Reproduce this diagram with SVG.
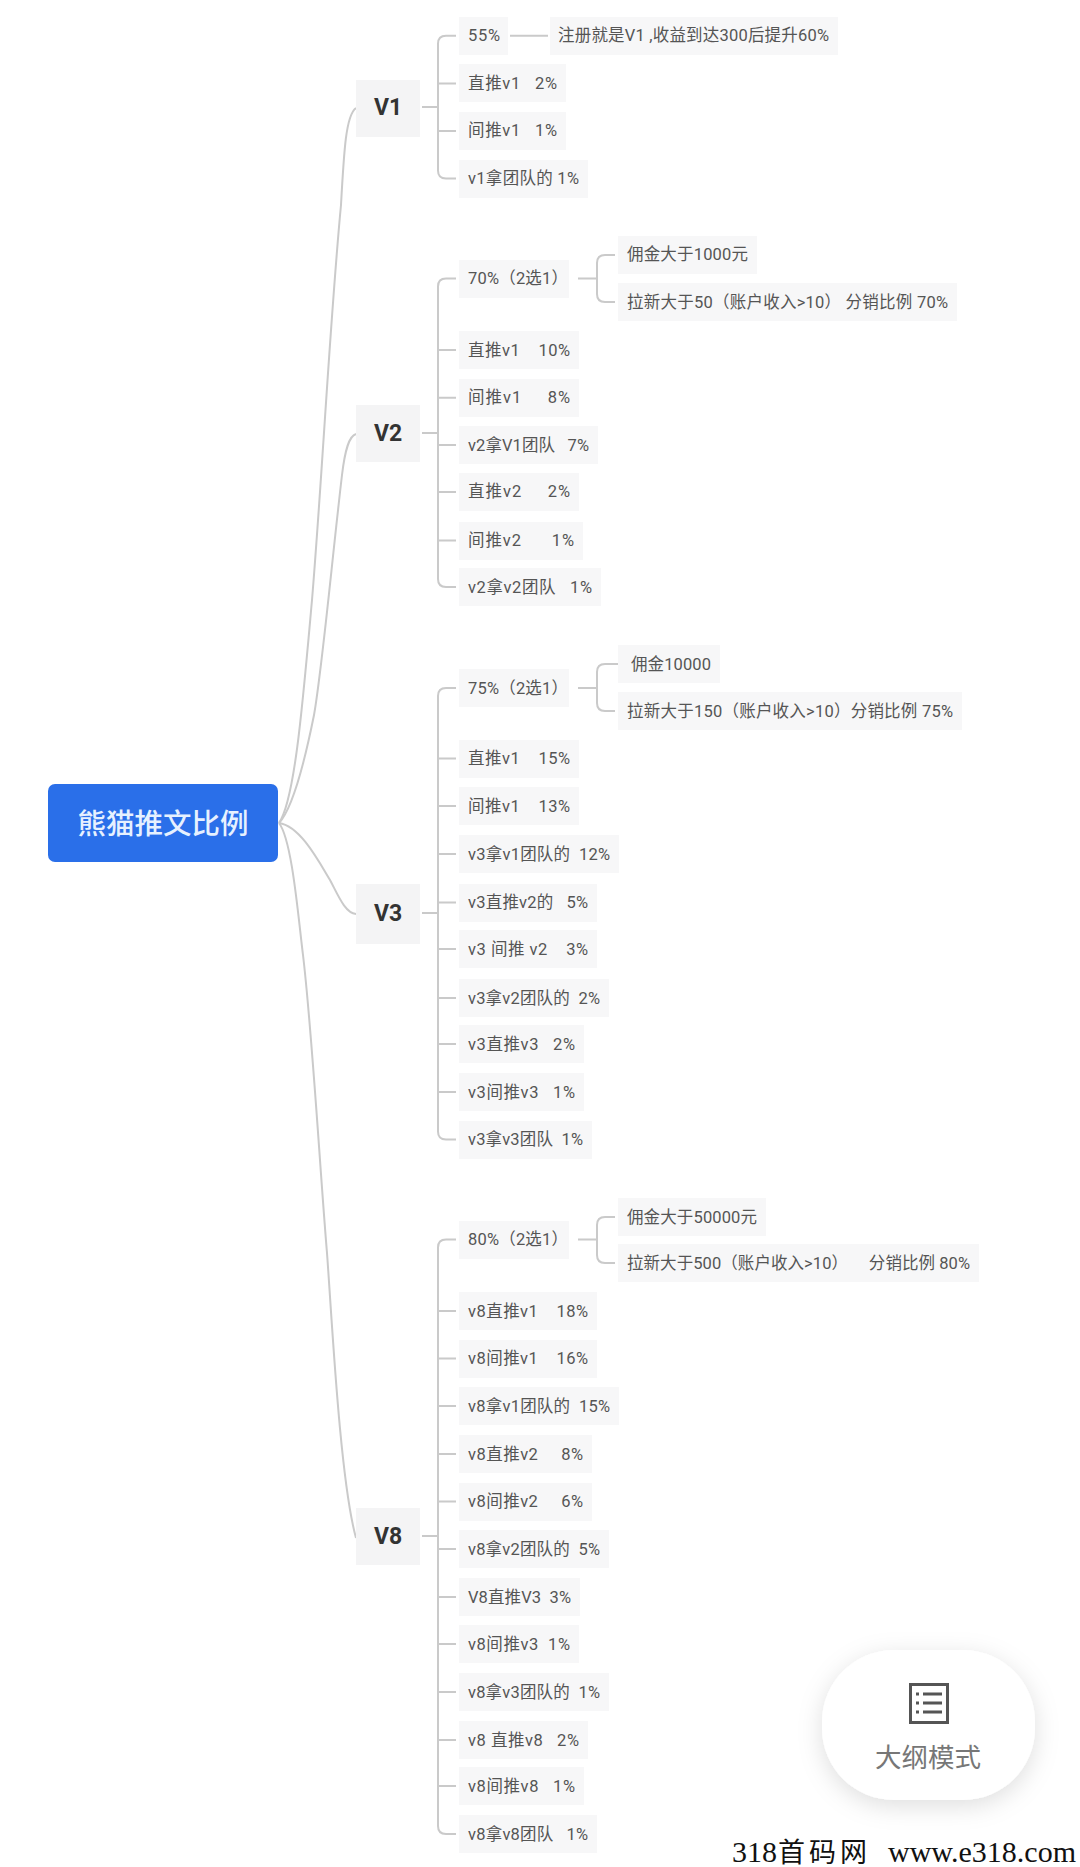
<svg xmlns="http://www.w3.org/2000/svg" width="1080" height="1867" viewBox="0 0 1080 1867">
<style>
text{font-family:Roboto,"Noto Sans CJK SC",sans-serif;white-space:pre}
.b{fill:#f7f7f8}
.vb{fill:#f4f4f5}
.t{font-size:16.5px;fill:#555}
.v{font-size:23px;font-weight:700;fill:#333;text-anchor:middle}
.c{fill:none;stroke:#cacaca;stroke-width:2}
</style>
<defs><filter id="sh" x="-30%" y="-30%" width="160%" height="170%"><feDropShadow dx="0" dy="6" stdDeviation="12" flood-color="#000" flood-opacity="0.13"/></filter></defs>
<rect width="1080" height="1867" fill="#fff"/>
<g id="connectors" class="c">
<path d="M279 823C295 800 303 700 312 600C322 480 330 320 341 205C344 150 346 115 356 108"/>
<path d="M279 823C293 808 305 760 314 715C322 670 332 560 342 475C345 450 349 436 356 434"/>
<path d="M279 823C300 826 318 860 330 880C338 895 345 913 356 914"/>
<path d="M279 823C292 840 298 915 303 955C312 1030 320 1170 327 1253C332 1320 340 1480 356 1538"/>
<path d="M422 107H438M456 35.7H446Q438 35.7 438 43.7V170.6Q438 178.6 446 178.6H456M438 83.4H456M438 131H456"/>
<path d="M510 35.7H548"/>
<path d="M422 433H438M456 278.6H446Q438 278.6 438 286.6V579Q438 587 446 587H456M438 350H456M438 397.7H456M438 445H456M438 492H456M438 540.6H456"/>
<path d="M578 278.6H597M615 255H605Q597 255 597 263V294Q597 302 605 302H615"/>
<path d="M422 913H438M456 688H446Q438 688 438 696V1131.5Q438 1139.5 446 1139.5H456M438 758.5H456M438 806H456M438 854H456M438 902.5H456M438 949H456M438 998H456M438 1044H456M438 1092H456"/>
<path d="M578 688H597M618 664H605Q597 664 597 672V703Q597 711 605 711H615"/>
<path d="M422 1536H438M456 1239.5H446Q438 1239.5 438 1247.5V1826Q438 1834 446 1834H456M438 1311H456M438 1358.6H456M438 1406H456M438 1454H456M438 1501.5H456M438 1549H456M438 1597H456M438 1644H456M438 1692H456M438 1740H456M438 1786H456"/>
<path d="M578 1239.5H597M615 1217H605Q597 1217 597 1225V1255Q597 1263 605 1263H615"/>
</g>
<g id="root"><rect x="48" y="784" width="230" height="78" rx="7" fill="#2a6fe9"/><text x="163" y="834" font-size="28.5" font-weight="500" fill="#e6f1ff" text-anchor="middle">熊猫推文比例</text></g>
<g id="v1"><rect class="vb" x="356" y="80" width="64" height="57"/><text class="v" x="388" y="115">V1</text></g>
<g id="v2"><rect class="vb" x="356" y="405" width="64" height="57"/><text class="v" x="388" y="441">V2</text></g>
<g id="v3"><rect class="vb" x="356" y="884" width="64" height="60"/><text class="v" x="388" y="921">V3</text></g>
<g id="v8"><rect class="vb" x="356" y="1508" width="64" height="57"/><text class="v" x="388" y="1544">V8</text></g>
<g id="n1"><rect class="b" x="459" y="17" width="49" height="38"/><text class="t" x="468" y="41" textLength="32">55%</text></g>
<g id="n2"><rect class="b" x="550" y="17" width="288" height="38"/><text class="t" x="558" y="41" textLength="271">注册就是V1 ,收益到达300后提升60%</text></g>
<g id="n3"><rect class="b" x="459" y="64" width="107" height="38"/><text class="t" x="468" y="89" textLength="89">直推v1   2%</text></g>
<g id="n4"><rect class="b" x="459" y="112" width="107" height="38"/><text class="t" x="468" y="136" textLength="89">间推v1   1%</text></g>
<g id="n5"><rect class="b" x="459" y="160" width="129" height="38"/><text class="t" x="468" y="184" textLength="111">v1拿团队的 1%</text></g>
<g id="n6"><rect class="b" x="459" y="260" width="110" height="38"/><text class="t" x="468" y="284" textLength="100">70%（2选1）</text></g>
<g id="n7"><rect class="b" x="618" y="236" width="139" height="38"/><text class="t" x="627" y="260" textLength="121">佣金大于1000元</text></g>
<g id="n8"><rect class="b" x="618" y="283" width="339" height="38"/><text class="t" x="627" y="308" textLength="321">拉新大于50（账户收入>10） 分销比例 70%</text></g>
<g id="n9"><rect class="b" x="459" y="331" width="120" height="38"/><text class="t" x="468" y="356" textLength="102">直推v1    10%</text></g>
<g id="n10"><rect class="b" x="459" y="379" width="120" height="38"/><text class="t" x="468" y="403" textLength="102">间推v1     8%</text></g>
<g id="n11"><rect class="b" x="459" y="426" width="139" height="38"/><text class="t" x="468" y="451" textLength="121">v2拿V1团队   7%</text></g>
<g id="n12"><rect class="b" x="459" y="473" width="120" height="38"/><text class="t" x="468" y="497" textLength="102">直推v2     2%</text></g>
<g id="n13"><rect class="b" x="459" y="522" width="124" height="38"/><text class="t" x="468" y="546" textLength="106">间推v2      1%</text></g>
<g id="n14"><rect class="b" x="459" y="568" width="142" height="38"/><text class="t" x="468" y="593" textLength="124">v2拿v2团队   1%</text></g>
<g id="n15"><rect class="b" x="459" y="669" width="110" height="38"/><text class="t" x="468" y="694" textLength="100">75%（2选1）</text></g>
<g id="n16"><rect class="b" x="618" y="645" width="102" height="38"/><text class="t" x="631" y="670" textLength="80">佣金10000</text></g>
<g id="n17"><rect class="b" x="618" y="692" width="344" height="38"/><text class="t" x="627" y="717" textLength="326">拉新大于150（账户收入>10）分销比例 75%</text></g>
<g id="n18"><rect class="b" x="459" y="740" width="120" height="38"/><text class="t" x="468" y="764" textLength="102">直推v1    15%</text></g>
<g id="n19"><rect class="b" x="459" y="787" width="120" height="38"/><text class="t" x="468" y="812" textLength="102">间推v1    13%</text></g>
<g id="n20"><rect class="b" x="459" y="835" width="160" height="38"/><text class="t" x="468" y="860" textLength="142">v3拿v1团队的  12%</text></g>
<g id="n21"><rect class="b" x="459" y="884" width="138" height="38"/><text class="t" x="468" y="908" textLength="120">v3直推v2的   5%</text></g>
<g id="n22"><rect class="b" x="459" y="930" width="138" height="38"/><text class="t" x="468" y="955" textLength="120">v3 间推 v2    3%</text></g>
<g id="n23"><rect class="b" x="459" y="979" width="150" height="38"/><text class="t" x="468" y="1004" textLength="132">v3拿v2团队的  2%</text></g>
<g id="n24"><rect class="b" x="459" y="1025" width="125" height="38"/><text class="t" x="468" y="1050" textLength="107">v3直推v3   2%</text></g>
<g id="n25"><rect class="b" x="459" y="1073" width="125" height="38"/><text class="t" x="468" y="1098" textLength="107">v3间推v3   1%</text></g>
<g id="n26"><rect class="b" x="459" y="1121" width="133" height="38"/><text class="t" x="468" y="1145" textLength="115">v3拿v3团队  1%</text></g>
<g id="n27"><rect class="b" x="459" y="1221" width="110" height="38"/><text class="t" x="468" y="1245" textLength="100">80%（2选1）</text></g>
<g id="n28"><rect class="b" x="618" y="1198" width="148" height="38"/><text class="t" x="627" y="1223" textLength="130">佣金大于50000元</text></g>
<g id="n29"><rect class="b" x="618" y="1244" width="361" height="38"/><text class="t" x="627" y="1269" textLength="343">拉新大于500（账户收入>10）     分销比例 80%</text></g>
<g id="n30"><rect class="b" x="459" y="1292" width="138" height="38"/><text class="t" x="468" y="1317" textLength="120">v8直推v1    18%</text></g>
<g id="n31"><rect class="b" x="459" y="1340" width="138" height="38"/><text class="t" x="468" y="1364" textLength="120">v8间推v1    16%</text></g>
<g id="n32"><rect class="b" x="459" y="1387" width="160" height="38"/><text class="t" x="468" y="1412" textLength="142">v8拿v1团队的  15%</text></g>
<g id="n33"><rect class="b" x="459" y="1435" width="133" height="38"/><text class="t" x="468" y="1460" textLength="115">v8直推v2     8%</text></g>
<g id="n34"><rect class="b" x="459" y="1483" width="133" height="38"/><text class="t" x="468" y="1507" textLength="115">v8间推v2     6%</text></g>
<g id="n35"><rect class="b" x="459" y="1530" width="150" height="38"/><text class="t" x="468" y="1555" textLength="132">v8拿v2团队的  5%</text></g>
<g id="n36"><rect class="b" x="459" y="1578" width="121" height="38"/><text class="t" x="468" y="1603" textLength="103">V8直推V3  3%</text></g>
<g id="n37"><rect class="b" x="459" y="1625" width="120" height="38"/><text class="t" x="468" y="1650" textLength="102">v8间推v3  1%</text></g>
<g id="n38"><rect class="b" x="459" y="1673" width="150" height="38"/><text class="t" x="468" y="1698" textLength="132">v8拿v3团队的  1%</text></g>
<g id="n39"><rect class="b" x="459" y="1721" width="129" height="38"/><text class="t" x="468" y="1746" textLength="111">v8 直推v8   2%</text></g>
<g id="n40"><rect class="b" x="459" y="1767" width="125" height="38"/><text class="t" x="468" y="1792" textLength="107">v8间推v8   1%</text></g>
<g id="n41"><rect class="b" x="459" y="1815" width="138" height="38"/><text class="t" x="468" y="1840" textLength="120">v8拿v8团队   1%</text></g>
<g id="outline-button">
<rect x="822" y="1650" width="213" height="150" rx="72" fill="#fff" filter="url(#sh)"/>
<rect x="910.500" y="1684.500" width="37" height="38" fill="none" stroke="#555" stroke-width="3"/>
<path d="M916 1694h3M923 1694h19M916 1703h3M923 1703h19M916 1712h3M923 1712h19" fill="none" stroke="#555" stroke-width="3"/>
<text x="928" y="1767" font-size="26.500" fill="#777" text-anchor="middle">大纲模式</text>
</g>
<text y="1862" font-size="30" fill="#111" style="font-family:'Liberation Serif','Noto Sans CJK SC',serif"><tspan x="732">318</tspan><tspan x="778" font-size="27" letter-spacing="4">首码网</tspan><tspan x="888">www.e318.com</tspan></text>
</svg>
